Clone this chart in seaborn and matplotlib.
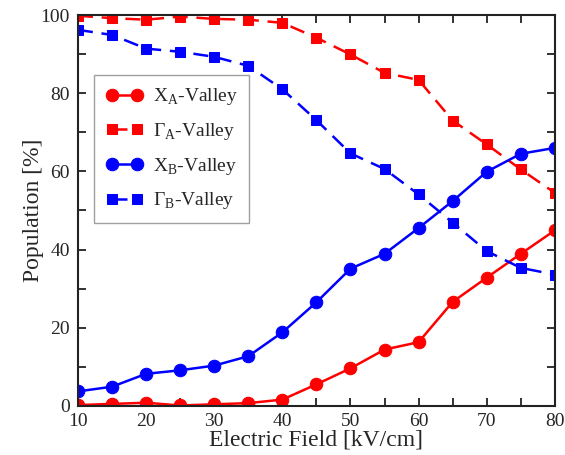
import numpy as np
import pandas as pd
import seaborn as sns
import matplotlib.pyplot as plt
from matplotlib.ticker import MultipleLocator

# data
field = [10, 15, 20, 25, 30, 35, 40, 45, 50, 55, 60, 65, 70, 75, 80]
x_a = [0.2, 0.5, 0.8, 0.1, 0.4, 0.7, 1.6, 5.5, 9.6, 14.4, 16.3, 26.6, 32.8, 38.9, 44.9]
gamma_a = [99.8, 99.2, 98.8, 99.6, 99.0, 98.8, 98.0, 94.2, 89.9, 85.2, 83.4, 73.0, 66.9, 60.5, 54.5]
x_b = [3.7, 4.9, 8.2, 9.1, 10.3, 12.7, 18.8, 26.5, 35.1, 38.9, 45.5, 52.4, 59.9, 64.5, 66.0]
gamma_b = [96.2, 94.9, 91.4, 90.6, 89.3, 87.0, 81.0, 73.1, 64.6, 60.6, 54.1, 46.9, 39.6, 35.3, 33.6]

sns.set_style('ticks')
plt.rcParams['font.family'] = ['Liberation Serif', 'DejaVu Serif']
plt.rcParams['mathtext.fontset'] = 'custom'
plt.rcParams['mathtext.rm'] = 'Liberation Serif'

fig = plt.figure(figsize=(5.65, 4.55), dpi=100)
ax = fig.add_axes([0.138, 0.108, 0.844, 0.859])

series = [
    (x_a, 'red', 'o', '-', 'X$_\\mathregular{A}$-Valley'),
    (gamma_a, 'red', 's', '--', 'Γ$_\\mathregular{A}$-Valley'),
    (x_b, 'blue', 'o', '-', 'X$_\\mathregular{B}$-Valley'),
    (gamma_b, 'blue', 's', '--', 'Γ$_\\mathregular{B}$-Valley'),
]

for vals, col, mk, ls, lab in series:
    ms = 9 if mk == 'o' else 7.5
    sns.lineplot(x=field, y=vals, color=col, marker=mk, markersize=ms,
                 markeredgecolor=col, linewidth=1.8, label=lab, ax=ax)
    if ls == '--':
        ax.lines[-1].set_dashes([6, 3.5])

ax.set_xlim(10, 80)
ax.set_ylim(0, 100)
ax.xaxis.set_major_locator(MultipleLocator(10))
ax.xaxis.set_minor_locator(MultipleLocator(5))
ax.yaxis.set_major_locator(MultipleLocator(20))
ax.yaxis.set_minor_locator(MultipleLocator(10))
ax.tick_params(which='both', direction='in', top=True, right=True,
               length=6, width=1.3, color='#222222', labelsize=14)
ax.tick_params(axis='x', pad=5)
ax.tick_params(axis='y', pad=6)

for sp in ax.spines.values():
    sp.set_linewidth(1.5)
    sp.set_color('#222222')
    sp.set_visible(True)

ax.set_xlabel('Electric Field [kV/cm]', fontsize=17, labelpad=0)
ax.set_ylabel('Population [%]', fontsize=17, labelpad=-3)

leg = ax.legend(loc='upper left', bbox_to_anchor=(0.034, 0.847), borderaxespad=0,
                fontsize=14, numpoints=2, frameon=True, fancybox=False,
                edgecolor='#888888', handlelength=1.9, handletextpad=0.5,
                labelspacing=0.7, borderpad=0.6)
leg.get_frame().set_linewidth(1.0)

fig.savefig('out.png', dpi=100)
